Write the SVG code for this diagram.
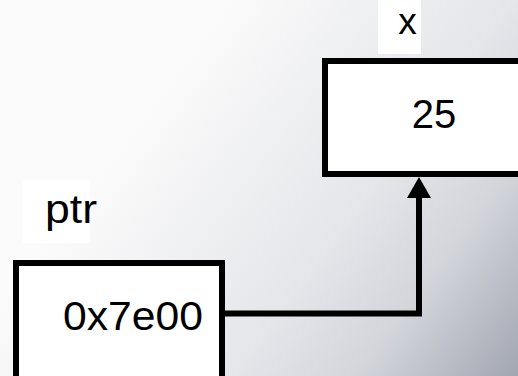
<svg xmlns="http://www.w3.org/2000/svg" width="518" height="376" viewBox="0 0 518 376">
<defs>
<linearGradient id="bg" gradientUnits="userSpaceOnUse" x1="150" y1="100" x2="518" y2="376">
<stop offset="0" stop-color="#fbfbfb"/>
<stop offset="0.5" stop-color="#e5e6ea"/>
<stop offset="0.72" stop-color="#d3d5db"/>
<stop offset="1" stop-color="#a2a6b1"/>
</linearGradient>
<style>
.box{fill:#fff;stroke:#000;stroke-width:6}
.lbl{font-family:"Liberation Sans",Arial,sans-serif;fill:#000}
.conn{fill:none;stroke:#000;stroke-width:6}
</style>
</defs>
<rect width="518" height="376" fill="url(#bg)"/>
<g id="node-x">
<rect x="378" y="0" width="43" height="54" fill="#fff"/>
<text class="lbl" x="407.500" y="34" font-size="37" text-anchor="middle">x</text>
<rect class="box" x="325" y="61" width="200" height="113"/>
<text class="lbl" x="434" y="128" font-size="40" text-anchor="middle">25</text>
</g>
<g id="node-ptr">
<rect x="23" y="180" width="67" height="63" fill="#fff"/>
<text class="lbl" x="45" y="223" font-size="40" textLength="52" lengthAdjust="spacingAndGlyphs">ptr</text>
<rect class="box" x="16" y="263" width="206" height="120"/>
<text class="lbl" x="63" y="330" font-size="40" textLength="140" lengthAdjust="spacingAndGlyphs">0x7e00</text>
</g>
<g id="connectors">
<polyline class="conn" points="225,313.5 419,313.5 419,196"/>
<path d="M407,198 L419,177 L431,198 Z" fill="#000"/>
</g>
</svg>
